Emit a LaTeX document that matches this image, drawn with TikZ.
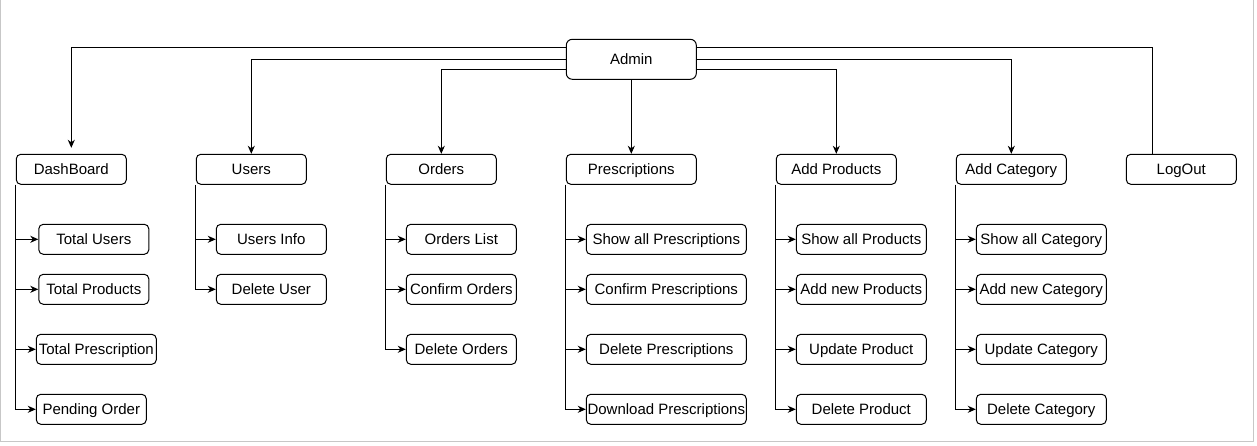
\documentclass[tikz,border=0pt]{standalone}
\usepackage{fontspec}
\setmainfont{Liberation Sans}
\usetikzlibrary{arrows.meta}

\begin{document}
\begin{tikzpicture}[x=1pt, y=-1pt,
		box_style/.style={draw=black, line width=1pt, rounded corners=4.5pt, minimum height=30pt, inner sep=0pt, text height=12.5pt, text depth=3pt, font=\fontsize{15}{18}\selectfont},
		root_style/.style={box_style, rounded corners=6pt, minimum width=130pt, minimum height=40pt},
		edge_style/.style={draw=black, line width=1pt},
		arrow_style/.style={edge_style, -{Stealth[length=8pt,width=7pt,inset=2.5pt]}},
		frame_style/.style={draw=black!22, line width=1pt}]
		
		\useasboundingbox (0,0) rectangle (1257,446);
		\draw[frame_style] (0.5,0) -- (0.5,441.5) -- (1253.5,441.5) -- (1253.5,0);
		
		\node[root_style] (admin) at (631.3,59.3)  {Admin};
		
		\node[box_style, minimum width=110pt] (dash) at (71.3,169.3)  {DashBoard};
		\node[box_style, minimum width=110pt] (users) at (251.3,169.3)  {Users};
		\node[box_style, minimum width=110pt] (orders) at (441.3,169.3)  {Orders};
		\node[box_style, minimum width=130pt] (presc) at (631.3,169.3)  {Prescriptions};
		\node[box_style, minimum width=120pt] (addprod) at (836.3,169.3)  {Add Products};
		\node[box_style, minimum width=110pt] (addcat) at (1011.3,169.3)  {Add Category};
		\node[box_style, minimum width=110pt] (logout) at (1181.3,169.3)  {LogOut};
		
		\node[box_style, minimum width=110pt] (tusers) at (93.8,239.3)  {Total Users};
		\node[box_style, minimum width=110pt] (tprod) at (93.8,289.3)  {Total Products};
		\node[box_style, minimum width=120pt] (tpresc) at (96.3,349.3)  {Total Prescription};
		\node[box_style, minimum width=110pt] (pending) at (91.3,409.3)  {Pending Order};
		
		\node[box_style, minimum width=110pt] (uinfo) at (271.3,239.3)  {Users Info};
		\node[box_style, minimum width=110pt] (udel) at (271.3,289.3)  {Delete User};
		
		\node[box_style, minimum width=110pt] (olist) at (461.3,239.3)  {Orders List};
		\node[box_style, minimum width=110pt] (oconf) at (461.3,289.3)  {Confirm Orders};
		\node[box_style, minimum width=110pt] (odel) at (461.3,349.3)  {Delete Orders};
		
		\node[box_style, minimum width=160pt] (pshow) at (666.3,239.3)  {Show all Prescriptions};
		\node[box_style, minimum width=160pt] (pconf) at (666.3,289.3)  {Confirm Prescriptions};
		\node[box_style, minimum width=160pt] (pdel) at (666.3,349.3)  {Delete Prescriptions};
		\node[box_style, minimum width=160pt] (pdown) at (666.3,409.3)  {Download Prescriptions};
		
		\node[box_style, minimum width=130pt] (prshow) at (861.3,239.3)  {Show all Products};
		\node[box_style, minimum width=130pt] (prnew) at (861.3,289.3)  {Add new Products};
		\node[box_style, minimum width=130pt] (prupd) at (861.3,349.3)  {Update Product};
		\node[box_style, minimum width=130pt] (prdel) at (861.3,409.3)  {Delete Product};
		
		\node[box_style, minimum width=130pt] (cshow) at (1041.3,239.3)  {Show all Category};
		\node[box_style, minimum width=130pt] (cnew) at (1041.3,289.3)  {Add new Category};
		\node[box_style, minimum width=130pt] (cupd) at (1041.3,349.3)  {Update Category};
		\node[box_style, minimum width=130pt] (cdel) at (1041.3,409.3)  {Delete Category};
		
		% admin to the menu
		\draw[arrow_style, shorten >=6pt] ([yshift=11.7pt]admin.west) -| (dash.north);
		\draw[arrow_style] (admin.west) -| (users.north);
		\draw[arrow_style] ([yshift=-10pt]admin.west) -| (orders.north);
		\draw[arrow_style] (admin.south) -- (presc.north);
		\draw[arrow_style] ([yshift=-10pt]admin.east) -| (addprod.north);
		\draw[arrow_style] (admin.east) -| (addcat.north);
		\draw[edge_style] ([yshift=11.7pt]admin.east) -| ([xshift=-29.3pt]logout.north);
		
		% menu to the pages
		\draw[arrow_style] (dash.south west) |- (tusers.west);
		\draw[arrow_style] (dash.south west) |- (tprod.west);
		\draw[arrow_style] (dash.south west) |- (tpresc.west);
		\draw[arrow_style] (dash.south west) |- (pending.west);
		\draw[arrow_style] (users.south west) |- (uinfo.west);
		\draw[arrow_style] (users.south west) |- (udel.west);
		\draw[arrow_style] (orders.south west) |- (olist.west);
		\draw[arrow_style] (orders.south west) |- (oconf.west);
		\draw[arrow_style] (orders.south west) |- (odel.west);
		\draw[arrow_style] (presc.south west) |- (pshow.west);
		\draw[arrow_style] (presc.south west) |- (pconf.west);
		\draw[arrow_style] (presc.south west) |- (pdel.west);
		\draw[arrow_style] (presc.south west) |- (pdown.west);
		\draw[arrow_style] (addprod.south west) |- (prshow.west);
		\draw[arrow_style] (addprod.south west) |- (prnew.west);
		\draw[arrow_style] (addprod.south west) |- (prupd.west);
		\draw[arrow_style] (addprod.south west) |- (prdel.west);
		\draw[arrow_style] (addcat.south west) |- (cshow.west);
		\draw[arrow_style] (addcat.south west) |- (cnew.west);
		\draw[arrow_style] (addcat.south west) |- (cupd.west);
		\draw[arrow_style] (addcat.south west) |- (cdel.west);
		
		\end{tikzpicture}
\end{document}
